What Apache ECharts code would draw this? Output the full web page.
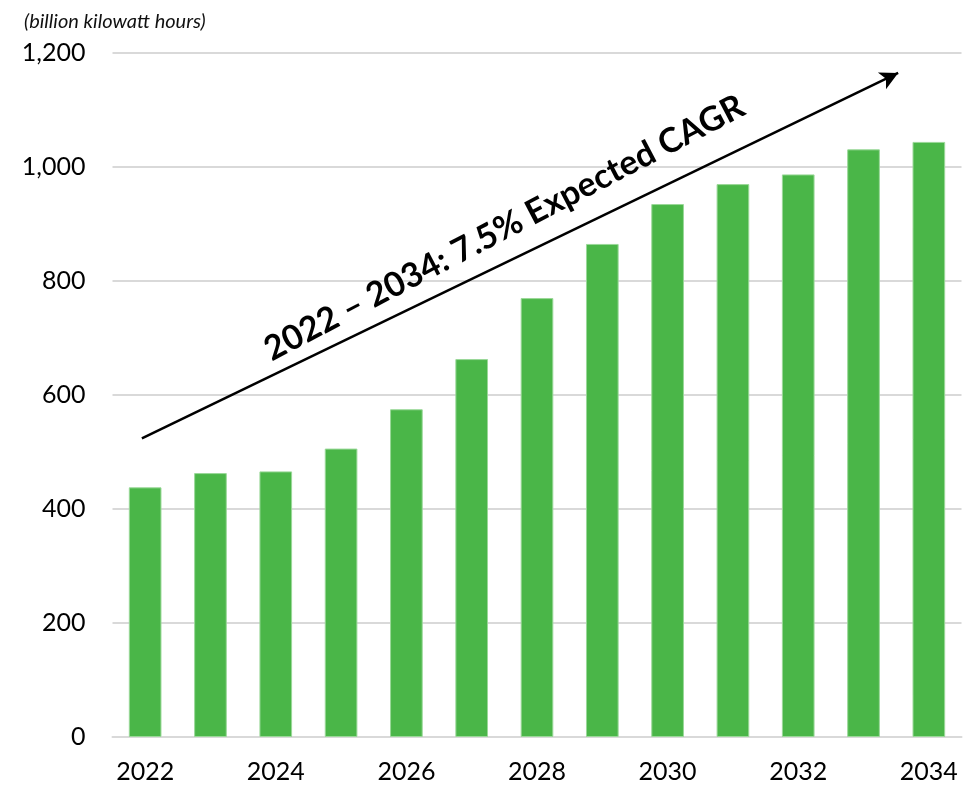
<!DOCTYPE html>
<html>
<head>
<meta charset="utf-8">
<script src="https://cdn.jsdelivr.net/npm/echarts@6/dist/echarts.min.js"></script>
<style>
html,body{margin:0;padding:0;background:#fff;}
#chart{width:965px;height:786px;}
</style>
</head>
<body>
<div id="chart"></div>
<script>
const years = ['2022','2023','2024','2025','2026','2027','2028','2029','2030','2031','2032','2033','2034'];
const values = [438, 463, 466, 506, 575, 663, 770, 865, 935, 970, 987, 1031, 1044];
const yTicks = [0, 200, 400, 600, 800, 1000, 1200];
const unitLabel = '(billion kilowatt hours)';
const cagrText = '2022 \u2013 2034: 7.5% Expected CAGR';
const arrowStart = [-0.05, 524];
const arrowEnd = [11.53, 1165];
const cagrTextCenter = [5.5, 893];

const FONT = 'Lato, "Open Sans", sans-serif';
const chart = echarts.init(document.getElementById('chart'));
chart.setOption({
  animation: false,
  backgroundColor: '#fff',
  title: {
    text: unitLabel,
    left: 19, top: 7,
    textStyle: {fontFamily: FONT, fontStyle: 'italic', fontWeight: 'normal', fontSize: 20, color: '#111'}
  },
  grid: {left: 112.5, right: 3.5, top: 53, bottom: 49},
  xAxis: [{
    type: 'category',
    data: years,
    axisTick: {show: false},
    axisLine: {lineStyle: {color: '#d9d9d9', width: 2}},
    axisLabel: {interval: 1, margin: 22, fontFamily: FONT, fontSize: 25, color: '#000'}
  }, {
    type: 'value', min: -0.5, max: 12.5, show: false
  }],
  yAxis: {
    type: 'value', min: yTicks[0], max: yTicks[yTicks.length - 1], interval: 200,
    axisLine: {show: false}, axisTick: {show: false},
    splitLine: {lineStyle: {color: '#d9d9d9', width: 2}},
    axisLabel: {
      margin: 27, fontFamily: FONT, fontSize: 25, color: '#000',
      formatter: v => v.toLocaleString('en-US')
    }
  },
  series: [{
    type: 'bar',
    data: values,
    barWidth: '50%',
    itemStyle: {color: '#4ab648', borderColor: '#9ad898', borderWidth: 1}
  }, {
    type: 'line',
    xAxisIndex: 1,
    data: [],
    symbol: 'none',
    silent: true,
    markLine: {
      silent: true,
      symbol: ['none', 'arrow'],
      symbolSize: [14, 18],
      lineStyle: {color: '#000', width: 2.5, type: 'solid'},
      label: {show: false},
      data: [[{coord: arrowStart}, {coord: arrowEnd}]]
    }
  }]
});
const c = chart.convertToPixel({xAxisIndex: 1, yAxisIndex: 0}, cagrTextCenter);
chart.setOption({
  graphic: [{
    type: 'text',
    x: c[0], y: c[1],
    rotation: 27.5 * Math.PI / 180,
    silent: true,
    style: {
      text: cagrText,
      align: 'center', verticalAlign: 'middle',
      font: 'bold 34px ' + FONT,
      fill: '#000'
    }
  }]
});
</script>
</body>
</html>
